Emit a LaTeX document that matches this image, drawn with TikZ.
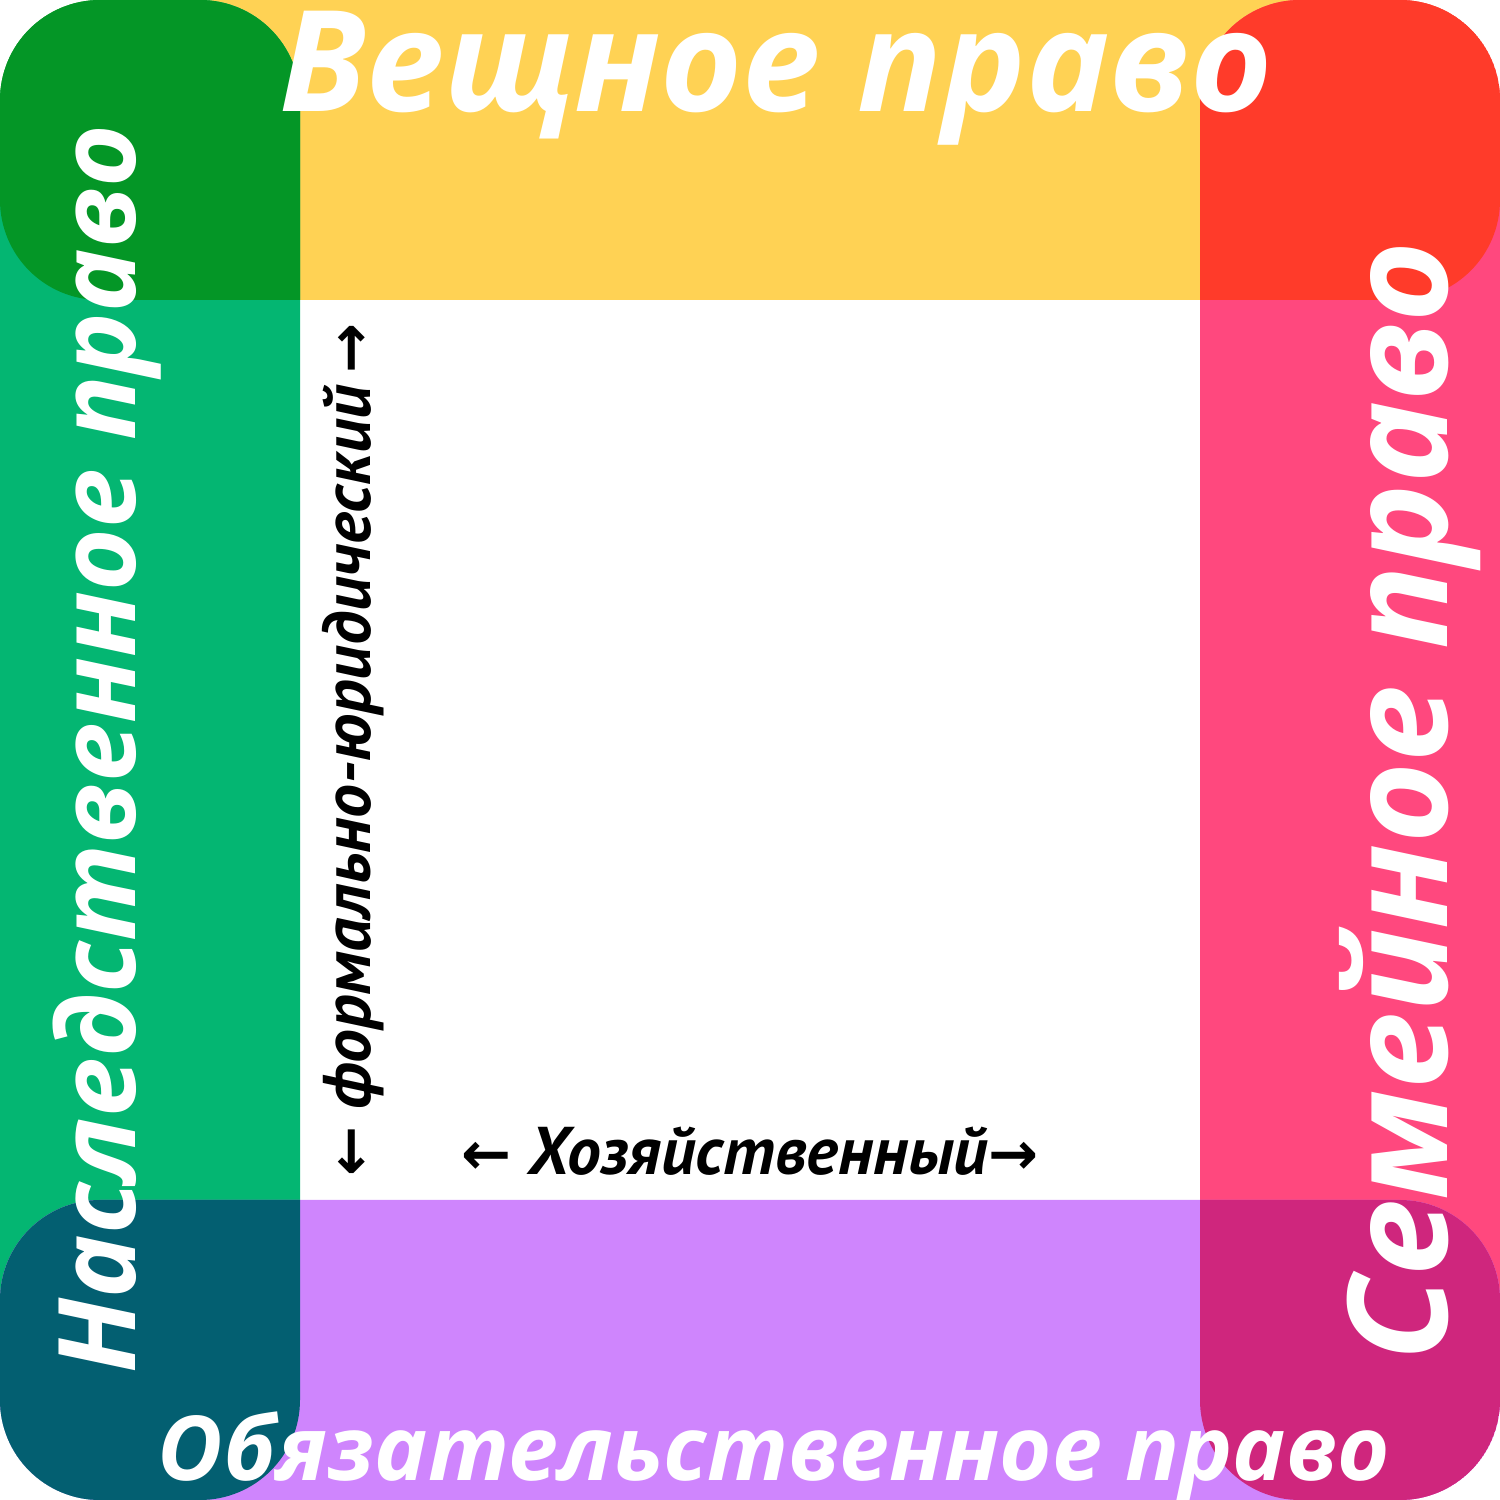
\documentclass[tikz,border=0pt]{standalone}
\usepackage{fontspec}
\usepackage{tikz}
\newfontfamily\titlefont{Open Sans}
\newfontfamily\labelfont{PT Sans}
\newfontfamily\arrowfont{DejaVu Sans}
\newcommand{\lawarrow}[1]{{\arrowfont\fontsize{17}{20}\selectfont #1}}
\definecolor{lawyellow}{RGB}{255,210,84}
\definecolor{lawgreen}{RGB}{4,182,114}
\definecolor{lawpink}{RGB}{255,72,126}
\definecolor{lawpurple}{RGB}{207,133,253}
\definecolor{cornertl}{RGB}{4,150,38}
\definecolor{cornertr}{RGB}{255,59,42}
\definecolor{cornerbl}{RGB}{3,95,113}
\definecolor{cornerbr}{RGB}{207,38,125}

\begin{document}
\begin{tikzpicture}[
  band/.style={rounded corners=1cm},
  title/.style={text=white,inner sep=0pt,anchor=base,font=\titlefont\bfseries\itshape},
  axislabel/.style={inner sep=0pt,anchor=base,font=\labelfont\bfseries\itshape}
]
\useasboundingbox (0,0) rectangle (15,15);
\fill[band,lawyellow] (0,12) rectangle (15,15);
\fill[band,lawgreen] (0,0) rectangle (3,15);
\fill[band,lawpink] (12,0) rectangle (15,15);
\fill[band,lawpurple] (0,0) rectangle (15,3);
% overlaps of the bands
\begin{scope}
  \clip[band] (0,12) rectangle (15,15);
  \fill[band,cornertl] (0,0) rectangle (3,15);
  \fill[band,cornertr] (12,0) rectangle (15,15);
\end{scope}
\begin{scope}
  \clip[band] (0,0) rectangle (15,3);
  \fill[band,cornerbl] (0,0) rectangle (3,15);
  \fill[band,cornerbr] (12,0) rectangle (15,15);
\end{scope}
\node[title] (thing) at (7.76,13.88) {\fontsize{40}{44}\selectfont Вещное право};
\node[title] (obligation) at (7.74,0.19) {\fontsize{25.5}{29}\selectfont Обязательственное право};
\node[title,rotate=90] (inherit) at (1.35,7.51) {\fontsize{30.5}{34}\selectfont Наследственное право};
\node[title,rotate=90] (family) at (14.47,6.99) {\fontsize{39.4}{43}\selectfont Семейное право};
\node[axislabel] (economic) at (7.5,3.25) {\fontsize{19.2}{22}\selectfont\lawarrow{←} Хозяйственный\lawarrow{→}};
\node[axislabel,rotate=90] (formal) at (3.7,7.5) {\fontsize{19.2}{22}\selectfont\lawarrow{←} формально-юридический\,\lawarrow{→}};
\end{tikzpicture}
\end{document}
